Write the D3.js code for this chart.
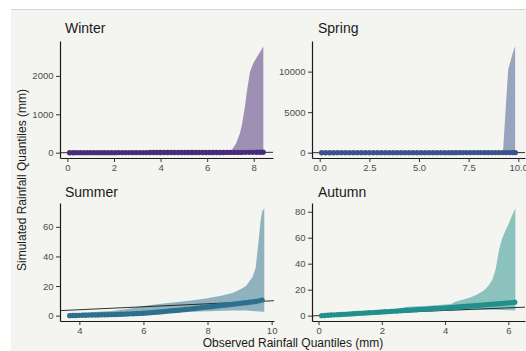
<!DOCTYPE html>
<html>
<head>
<meta charset="utf-8">
<script src="https://cdn.jsdelivr.net/npm/d3@7"></script>
<style>
  html, body { margin: 0; padding: 0; background: #ffffff; }
  svg { display: block; }
  text { font-family: "Liberation Sans", Arial, Helvetica, sans-serif; }
</style>
</head>
<body>
<svg id="chart" width="526" height="351"></svg>
<script>
// ---------------- DATA ----------------
const seasons = ["Winter", "Spring", "Summer", "Autumn"];
const seasonColors = ["#472c7a", "#3b528b", "#2c708e", "#21908c"];

// [observed quantile, median simulated quantile]
const winterPoints = [[0.1,0.0],[0.25,0.1],[0.4,0.2],[0.55,0.3],[0.7,0.4],[0.85,0.5],[1.0,0.6],[1.15,0.7],[1.3,0.8],[1.45,0.9],[1.6,1.0],[1.75,1.1],[1.9,1.3],[2.05,1.4],[2.2,1.5],[2.35,1.7],[2.5,1.8],[2.65,1.9],[2.8,2.1],[2.95,2.2],[3.1,2.4],[3.25,2.5],[3.4,2.7],[3.55,2.8],[3.7,3.0],[3.85,3.1],[4.0,3.3],[4.15,3.4],[4.3,3.6],[4.45,3.8],[4.6,3.9],[4.75,4.1],[4.9,4.3],[5.05,4.4],[5.2,4.6],[5.35,4.8],[5.5,5.0],[5.65,5.2],[5.8,5.4],[5.95,5.6],[6.1,5.8],[6.25,6.0],[6.4,6.2],[6.55,6.4],[6.7,6.6],[6.85,6.8],[7.0,7.0],[7.16,7.3],[7.32,7.6],[7.48,7.9],[7.64,8.3],[7.8,8.7],[7.96,9.2],[8.12,9.8],[8.27,10.5],[8.4,11.4]];
const springPoints = [[0.1,0.1],[0.3,0.3],[0.5,0.5],[0.7,0.7],[0.9,0.9],[1.1,1.1],[1.3,1.3],[1.5,1.5],[1.7,1.7],[1.9,1.9],[2.1,2.1],[2.3,2.3],[2.5,2.5],[2.7,2.7],[2.9,2.9],[3.1,3.1],[3.3,3.3],[3.5,3.5],[3.7,3.7],[3.9,3.9],[4.1,4.1],[4.3,4.3],[4.5,4.5],[4.7,4.7],[4.9,4.9],[5.1,5.1],[5.3,5.3],[5.5,5.5],[5.7,5.7],[5.9,5.9],[6.1,6.1],[6.3,6.3],[6.5,6.5],[6.68,6.7],[6.86,6.9],[7.04,7.1],[7.22,7.3],[7.4,7.5],[7.58,7.7],[7.76,7.9],[7.94,8.1],[8.12,8.3],[8.3,8.5],[8.48,8.7],[8.66,8.9],[8.84,9.1],[9.02,9.3],[9.2,9.6],[9.38,9.9],[9.56,10.3],[9.72,10.8],[9.85,11.5]];
const summerPoints = [[3.7,0.0],[3.8,0.05],[3.9,0.1],[4.0,0.2],[4.1,0.25],[4.2,0.3],[4.3,0.35],[4.4,0.4],[4.5,0.45],[4.6,0.5],[4.7,0.55],[4.8,0.6],[4.9,0.65],[5.0,0.7],[5.1,0.8],[5.2,0.85],[5.3,0.9],[5.4,1.0],[5.5,1.1],[5.6,1.2],[5.7,1.3],[5.8,1.4],[5.9,1.5],[6.0,1.6],[6.1,1.8],[6.2,2.0],[6.3,2.2],[6.4,2.3],[6.5,2.5],[6.6,2.7],[6.7,2.9],[6.8,3.1],[6.9,3.3],[7.0,3.5],[7.1,3.7],[7.2,3.9],[7.3,4.1],[7.4,4.4],[7.5,4.6],[7.6,4.8],[7.7,5.1],[7.8,5.3],[7.9,5.6],[8.0,5.8],[8.1,6.0],[8.2,6.3],[8.3,6.5],[8.4,6.8],[8.5,7.0],[8.6,7.2],[8.7,7.5],[8.8,7.7],[8.9,8.0],[9.0,8.2],[9.1,8.5],[9.2,8.7],[9.3,9.0],[9.4,9.3],[9.5,9.6],[9.6,10.0],[9.7,10.5]];
const autumnPoints = [[0.1,0.0],[0.2,0.15],[0.3,0.3],[0.4,0.45],[0.5,0.6],[0.6,0.75],[0.7,0.9],[0.8,1.0],[0.9,1.15],[1.0,1.3],[1.1,1.45],[1.2,1.6],[1.3,1.75],[1.4,1.9],[1.5,2.05],[1.6,2.2],[1.7,2.35],[1.8,2.5],[1.9,2.65],[2.0,2.8],[2.1,2.95],[2.2,3.1],[2.3,3.3],[2.4,3.45],[2.5,3.6],[2.6,3.75],[2.7,3.9],[2.8,4.1],[2.9,4.25],[3.0,4.4],[3.1,4.55],[3.2,4.7],[3.3,4.85],[3.4,5.0],[3.5,5.15],[3.6,5.3],[3.7,5.45],[3.8,5.6],[3.9,5.75],[4.0,5.9],[4.1,6.1],[4.2,6.3],[4.3,6.5],[4.4,6.7],[4.5,6.85],[4.6,7.05],[4.7,7.25],[4.8,7.4],[4.9,7.6],[5.0,7.8],[5.1,8.0],[5.2,8.2],[5.3,8.4],[5.4,8.6],[5.5,8.8],[5.6,9.0],[5.7,9.2],[5.8,9.4],[5.9,9.6],[6.0,9.8],[6.1,10.0],[6.2,10.3]];

// simulation envelope: [observed quantile, lower, upper]
const winterBand = [[0.1,0,5],[6.9,0,10],[7.0,0,30],[7.12,0,120],[7.25,0,250],[7.41,0,512],[7.5,0,750],[7.62,0,1200],[7.72,0,1650],[7.84,0,2110],[7.98,0,2330],[8.1,0,2450],[8.19,0,2545],[8.3,0,2650],[8.41,0,2770]];
const springBand = [[0.1,0,5],[9.2,0,20],[9.23,0,100],[9.49,0,10250],[9.6,0,11200],[9.72,0,12300],[9.84,0,13120]];
const summerBand = [[3.7,0,1.5],[4.5,0.1,2.5],[5.0,0.3,3.2],[5.5,0.6,4.5],[6.0,0.9,6.5],[6.5,1.4,7.8],[7.0,2.0,9.0],[7.5,2.6,10.3],[8.0,3.0,11.7],[8.5,3.3,13.8],[8.8,3.4,15.5],[9.0,3.5,17.5],[9.2,3.4,20],[9.4,3.2,26],[9.5,3.0,32],[9.55,2.9,42],[9.6,2.8,52],[9.65,2.8,63],[9.7,2.7,70],[9.77,2.7,72.5]];
const autumnBand = [[0.1,0,1.0],[1.0,0.5,2.3],[2.0,1.5,3.6],[2.4,2.0,4.5],[2.8,2.5,6.8],[3.0,2.8,7.1],[3.5,3.3,7.6],[3.9,3.6,8.3],[4.2,3.9,9.0],[4.3,4.0,10.5],[4.5,4.2,11.8],[4.8,4.4,14],[5.0,4.5,16],[5.2,4.6,19],[5.3,4.6,21],[5.4,4.6,24],[5.5,4.6,28],[5.6,4.5,36],[5.7,4.4,50],[5.8,4.3,59],[5.9,4.2,65],[6.0,4.1,70],[6.1,4.1,76],[6.22,4.0,82.6]];

// tick values
const winterXTicks = [0, 2, 4, 6, 8];
const winterYTicks = [0, 1000, 2000];
const springXTicks = [0, 2.5, 5, 7.5, 10];
const springYTicks = [0, 5000, 10000];
const summerXTicks = [4, 6, 8, 10];
const summerYTicks = [0, 20, 40, 60];
const autumnXTicks = [0, 2, 4, 6];
const autumnYTicks = [0, 20, 40, 60, 80];

const xTitle = "Observed Rainfall Quantiles (mm)";
const yTitle = "Simulated Rainfall Quantiles (mm)";

// ---------------- LAYOUT ----------------
const svg = d3.select("#chart");
svg.append("rect").attr("x", 11).attr("y", 9.5).attr("width", 526).attr("height", 351).attr("fill", "#f4f4f0");
svg.append("line").attr("x1", 11).attr("x2", 526).attr("y1", 9.5).attr("y2", 9.5).attr("stroke", "#d4d4d4").attr("stroke-width", 1);

const panels = [
  { points: winterPoints, band: winterBand, xt: winterXTicks, yt: winterYTicks, xf: d3.format("d"), box: [60, 273, 158, 41], tx: 65, ty: 33 },
  { points: springPoints, band: springBand, xt: springXTicks, yt: springYTicks, xf: d3.format(".1f"), box: [312, 525, 158, 41], tx: 318, ty: 33 },
  { points: summerPoints, band: summerBand, xt: summerXTicks, yt: summerYTicks, xf: d3.format("d"), box: [60, 274, 321, 203], tx: 65, ty: 197 },
  { points: autumnPoints, band: autumnBand, xt: autumnXTicks, yt: autumnYTicks, xf: d3.format("d"), box: [312, 525, 321, 203], tx: 318, ty: 197 }
];

function padded(ext) {
  const r = ext[1] - ext[0];
  return [ext[0] - 0.05 * r, ext[1] + 0.05 * r];
}

panels.forEach((p, i) => {
  const color = seasonColors[i];
  const [x0, x1, y0, y1] = p.box;
  const xs = p.points.map(d => d[0]).concat(p.band.map(d => d[0]));
  const ys = p.points.map(d => d[1]).concat(p.band.map(d => d[1]), p.band.map(d => d[2]));
  const x = d3.scaleLinear().domain(padded(d3.extent(xs))).range([x0, x1]);
  const y = d3.scaleLinear().domain(padded(d3.extent(ys))).range([y0, y1]);

  const clipId = "clip" + i;
  svg.append("clipPath").attr("id", clipId)
    .append("rect").attr("x", x0).attr("y", y1).attr("width", x1 - x0).attr("height", y0 - y1);

  const g = svg.append("g");
  const plot = g.append("g").attr("clip-path", `url(#${clipId})`);

  plot.append("path")
    .datum(p.band)
    .attr("d", d3.area().x(d => x(d[0])).y0(d => y(d[1])).y1(d => y(d[2])))
    .attr("fill", color).attr("fill-opacity", 0.5);

  const dx = x.domain();
  plot.append("line")
    .attr("x1", x(dx[0])).attr("y1", y(dx[0]))
    .attr("x2", x(dx[1])).attr("y2", y(dx[1]))
    .attr("stroke", "#1a1a1a").attr("stroke-width", 0.9);

  plot.selectAll("circle").data(p.points).enter().append("circle")
    .attr("cx", d => x(d[0])).attr("cy", d => y(d[1])).attr("r", 2.7)
    .attr("fill", color);

  const ax = g.append("g").attr("transform", `translate(0,${y0})`)
    .call(d3.axisBottom(x).tickValues(p.xt).tickFormat(p.xf).tickSize(4).tickPadding(2.5).tickSizeOuter(0));
  const ay = g.append("g").attr("transform", `translate(${x0},0)`)
    .call(d3.axisLeft(y).tickValues(p.yt).tickFormat(d3.format("d")).tickSize(4).tickPadding(2.5).tickSizeOuter(0));
  [ax, ay].forEach(a => {
    a.select(".domain").attr("stroke", "#1a1a1a").attr("stroke-width", 1.2);
    a.selectAll(".tick line").attr("stroke", "#333").attr("stroke-width", 1);
    a.selectAll(".tick text").attr("fill", "#4d4d4d").style("font-size", "9.5px")
      .style("font-family", '"Liberation Sans", Arial, sans-serif');
  });

  g.append("text").attr("x", p.tx).attr("y", p.ty).text(seasons[i])
    .attr("fill", "#1a1a1a").style("font-size", "14px");
});

svg.append("text").attr("x", 293).attr("y", 347).attr("text-anchor", "middle")
  .attr("fill", "#1a1a1a").style("font-size", "12px").text(xTitle);
svg.append("text").attr("transform", "translate(26,180) rotate(-90)").attr("text-anchor", "middle")
  .attr("fill", "#1a1a1a").style("font-size", "12px").text(yTitle);
</script>
</body>
</html>
